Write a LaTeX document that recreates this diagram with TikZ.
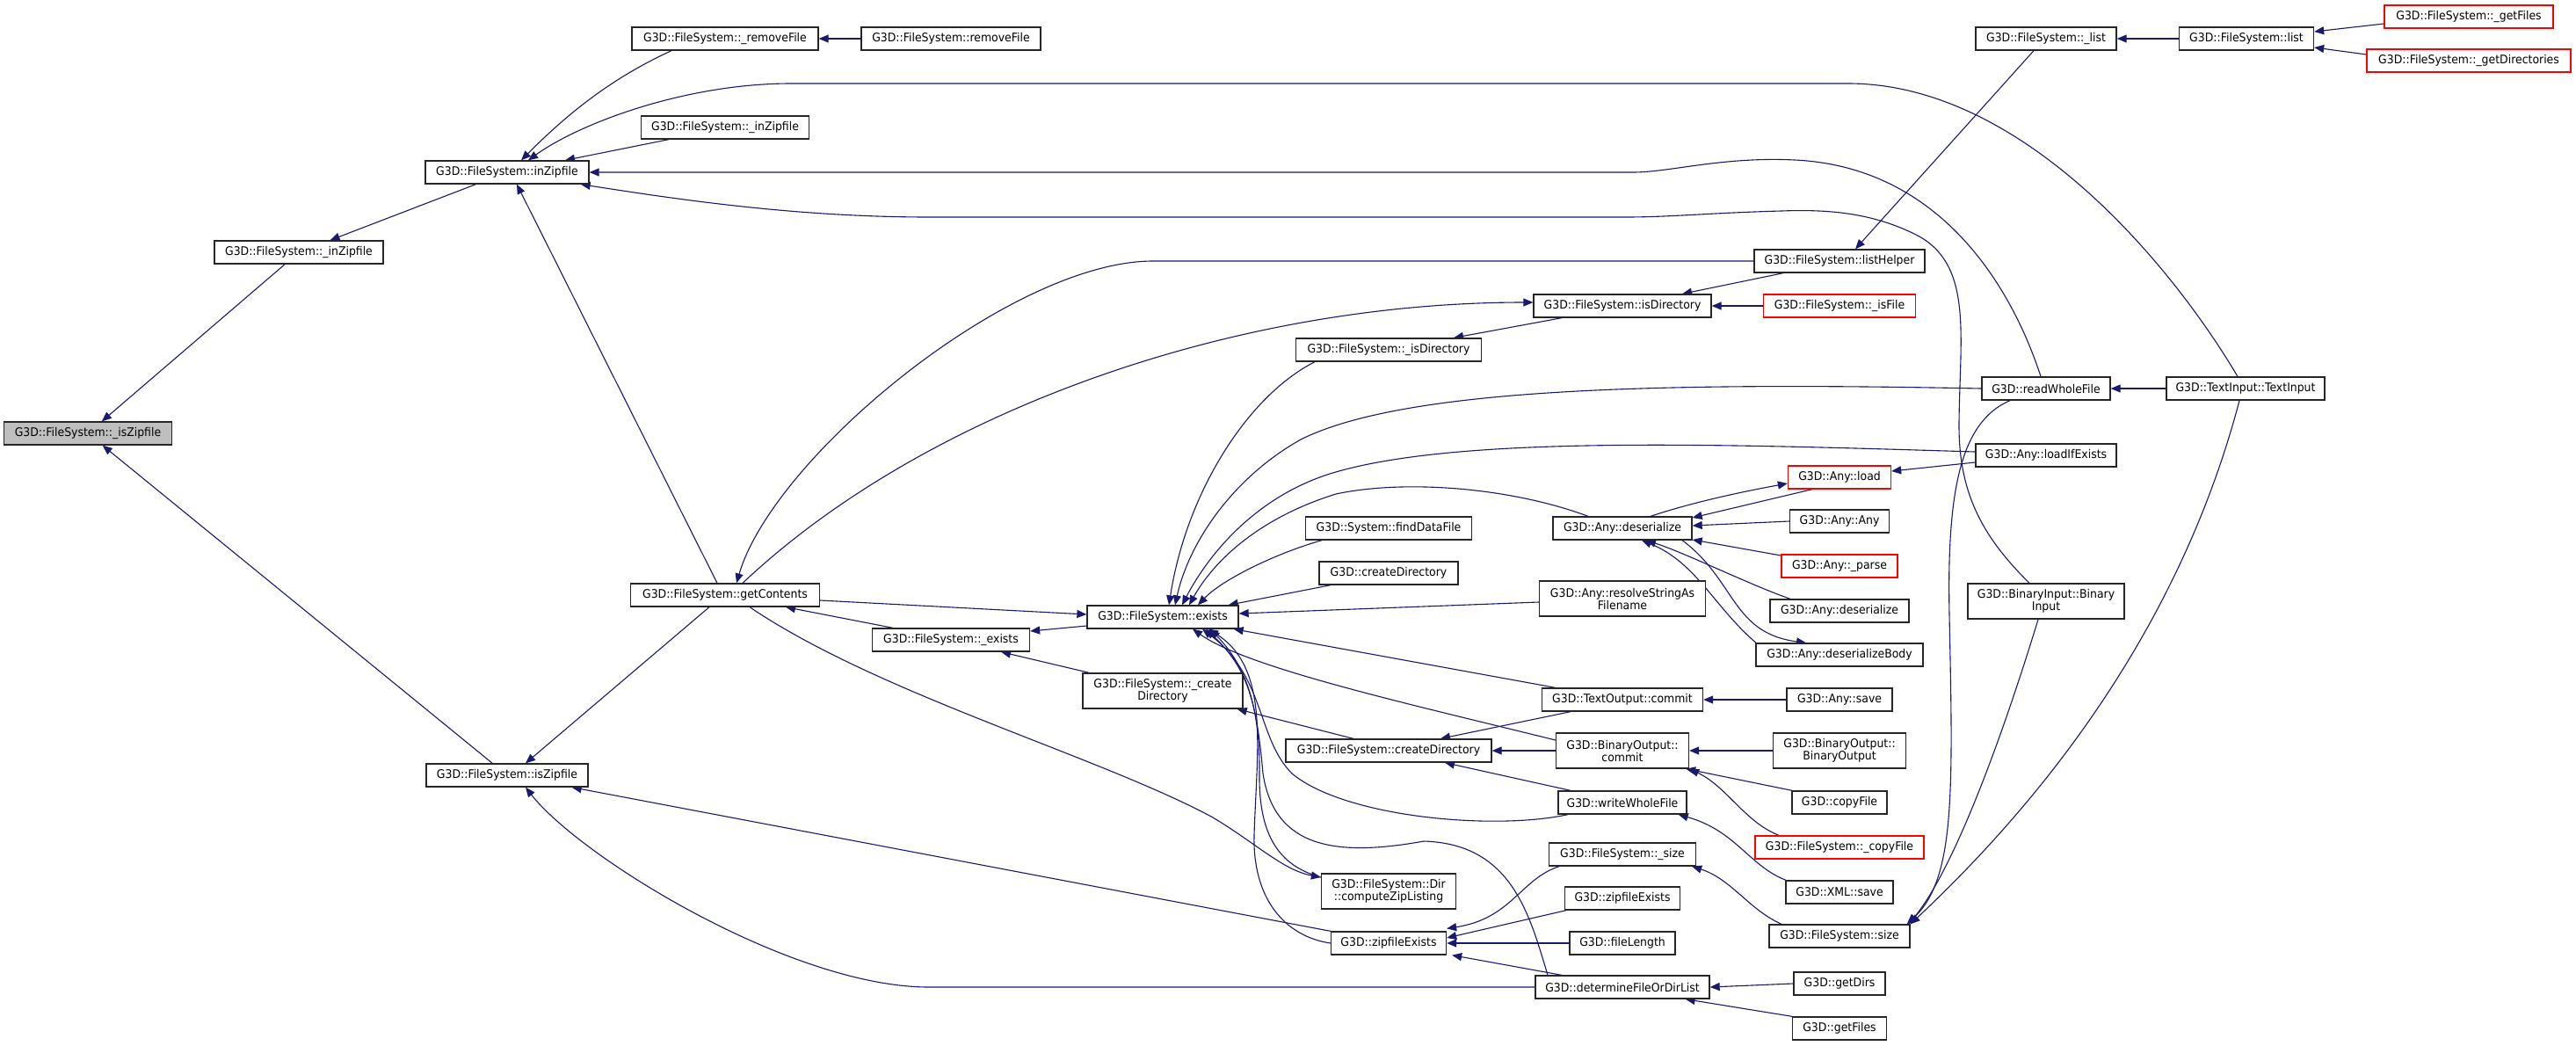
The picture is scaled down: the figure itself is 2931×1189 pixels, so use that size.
\documentclass[tikz,border=0pt]{standalone}
\usepackage{fontspec}
\newfontfamily\dxfam{DejaVu Sans}[FakeStretch=0.93]
\newcommand\dxfont{\dxfam\fontsize{6.7pt}{7pt}\selectfont}
\usetikzlibrary{arrows.meta,calc}
\pgfdeclarelayer{bg}
\pgfsetlayers{bg,main}
\definecolor{mblue}{HTML}{191970}
\tikzset{
  nd/.style={draw=black!85, line width=0.65pt, fill=white, font=\dxfont, inner sep=0pt, minimum height=13pt, align=center},
  wd/.style={minimum width=#1*0.5pt},
  tall/.style={minimum height=20pt},
  redn/.style={draw=red},
  grayn/.style={fill=black!25},
  e/.style={draw=mblue, line width=0.55pt, -{Triangle[length=5.5pt,width=4.5pt]}}
}
\begin{document}
\begin{tikzpicture}[x=0.5pt,y=-0.5pt]
\useasboundingbox (0,0) rectangle (2931,1189);
\begin{pgfonlayer}{bg}
\fill[white] (0,0) rectangle (2931,1189);
\end{pgfonlayer}
% nodes
\node[nd,grayn,wd=191] (isZ) at (100,493) {G3D::FileSystem::\_isZipfile};
\node[nd,wd=192] (inZl) at (340,287) {G3D::FileSystem::\_inZipfile};
\node[nd,wd=186] (inZ) at (577,196) {G3D::FileSystem::inZipfile};
\node[nd,wd=184] (isZp) at (577,882) {G3D::FileSystem::isZipfile};
\node[nd,wd=212] (rmFa) at (825,44) {G3D::FileSystem::\_removeFile};
\node[nd,wd=191] (inZt) at (825,145) {G3D::FileSystem::\_inZipfile};
\node[nd,wd=215] (getC) at (825,677) {G3D::FileSystem::getContents};
\node[nd,wd=204] (rmF) at (1082,44) {G3D::FileSystem::removeFile};
\node[nd,wd=179] (exA) at (1082,728) {G3D::FileSystem::\_exists};
\node[nd,wd=172] (ex) at (1323,702) {G3D::FileSystem::exists};
\node[nd,tall,wd=182] (crDa) at (1323,786) {G3D::FileSystem::\_create\\Directory};
\node[nd,wd=211] (isDa) at (1580,398) {G3D::FileSystem::\_isDirectory};
\node[nd,wd=189] (fdf) at (1580,601) {G3D::System::findDataFile};
\node[nd,wd=158] (crDg) at (1580,652) {G3D::createDirectory};
\node[nd,wd=234] (crD) at (1580,854) {G3D::FileSystem::createDirectory};
\node[nd,tall,wd=153] (czl) at (1580,1014) {G3D::FileSystem::Dir\\::computeZipListing};
\node[nd,wd=131] (zfeL) at (1580,1073) {G3D::zipfileExists};
\node[nd,wd=202] (isD) at (1846,348) {G3D::FileSystem::isDirectory};
\node[nd,wd=158] (des) at (1846,601) {G3D::Any::deserialize};
\node[nd,tall,wd=189] (rsf) at (1846,681) {G3D::Any::resolveStringAs\\Filename};
\node[nd,wd=183] (toc) at (1846,796) {G3D::TextOutput::commit};
\node[nd,tall,wd=151] (boc) at (1846,854) {G3D::BinaryOutput::\\commit};
\node[nd,wd=146] (wwf) at (1846,913) {G3D::writeWholeFile};
\node[nd,wd=167] (sizA) at (1846,972) {G3D::FileSystem::\_size};
\node[nd,wd=131] (zfeR) at (1846,1022) {G3D::zipfileExists};
\node[nd,wd=120] (flen) at (1846,1073) {G3D::fileLength};
\node[nd,wd=198] (dfl) at (1846,1123) {G3D::determineFileOrDirList};
\node[nd,wd=194] (lsh) at (2093,297) {G3D::FileSystem::listHelper};
\node[nd,redn,wd=173] (isF) at (2093,348) {G3D::FileSystem::\_isFile};
\node[nd,redn,wd=117] (load) at (2093,543) {G3D::Any::load};
\node[nd,wd=113] (any) at (2093,593) {G3D::Any::Any};
\node[nd,redn,wd=132] (parse) at (2093,644) {G3D::Any::\_parse};
\node[nd,wd=158] (desb) at (2093,695) {G3D::Any::deserialize};
\node[nd,wd=190] (desB) at (2093,745) {G3D::Any::deserializeBody};
\node[nd,wd=120] (save) at (2093,796) {G3D::Any::save};
\node[nd,tall,wd=151] (bob) at (2093,854) {G3D::BinaryOutput::\\BinaryOutput};
\node[nd,wd=108] (cpf) at (2093,913) {G3D::copyFile};
\node[nd,redn,wd=192] (cpfA) at (2093,964) {G3D::FileSystem::\_copyFile};
\node[nd,wd=122] (xml) at (2093,1015) {G3D::XML::save};
\node[nd,wd=160] (siz) at (2093,1065) {G3D::FileSystem::size};
\node[nd,wd=104] (gdirs) at (2093,1119) {G3D::getDirs};
\node[nd,wd=107] (gfiles) at (2093,1170) {G3D::getFiles};
\node[nd,wd=160] (lstA) at (2328,44) {G3D::FileSystem::\_list};
\node[nd,wd=146] (rwf) at (2328,442) {G3D::readWholeFile};
\node[nd,wd=160] (lie) at (2328,518) {G3D::Any::loadIfExists};
\node[nd,tall,wd=178] (bin) at (2328,684) {G3D::BinaryInput::Binary\\Input};
\node[nd,wd=153] (lst) at (2556,44) {G3D::FileSystem::list};
\node[nd,wd=180] (tin) at (2555,442) {G3D::TextInput::TextInput};
\node[nd,redn,wd=192] (gFa) at (2809,19) {G3D::FileSystem::\_getFiles};
\node[nd,redn,wd=232] (gDa) at (2809,69) {G3D::FileSystem::\_getDirectories};
% edges
\begin{pgfonlayer}{bg}
\draw[e] (inZl) -- (isZ);
\draw[e] (isZp) -- (isZ);
\draw[e] (inZ) -- (inZl);
\draw[e] (rmF) -- (rmFa);
\draw[e] ([shift={(-61,0)}]rmFa.south) .. controls (700,87) and (650,125) .. ([shift={(16,0)}]inZ.north);
\draw[e] ([shift={(-9,0)}]tin.north) .. controls (2470,300) and (2300,95) .. (2103,95) -- (900,95) .. controls (780,95) and (660,140) .. ([shift={(24,0)}]inZ.north);
\draw[e] ([shift={(-64,0)}]inZt.south) -- ([shift={(66,0)}]inZ.north);
\draw[e] ([shift={(-6,0)}]rwf.north) .. controls (2290,330) and (2210,190) .. (2042,182) .. controls (1960,178) and (1900,196) .. (1858,196) -- (inZ.east);
\draw[e] ([shift={(-19,0)}]bin.north) .. controls (2255,610) and (2228,560) .. (2229,480) .. controls (2230,380) and (2245,300) .. (2180,267) .. controls (2130,242) and (2080,238) .. (2027,240) .. controls (1950,242) and (1900,247) .. (1850,247) -- (1057,247) .. controls (900,247) and (760,225) .. ([shift={(-10,0)}]inZ.south east);
\draw[e] ([shift={(-9,0)}]getC.north) -- ([shift={(11,0)}]inZ.south);
\draw[e] ([shift={(-18,0)}]getC.south) -- ([shift={(21,0)}]isZp.north);
\draw[e] (lsh.west) -- (1312,297) .. controls (1150,297) and (880,520) .. ([shift={(13,0)}]getC.north);
\draw[e] ([shift={(20,0)}]getC.north) .. controls (1050,470) and (1400,344) .. ([shift={(0,-4)}]isD.west);
\draw[e] ([shift={(0,6)}]getC.east) -- ([shift={(0,-3)}]ex.west);
\draw[e] ([shift={(-66,0)}]exA.north) -- ([shift={(69,0)}]getC.south);
\draw[e] ([shift={(0,10)}]ex.west) -- ([shift={(0,-10)}]exA.east);
\draw[e] ([shift={(8,0)}]crDa.north west) -- ([shift={(57,0)}]exA.south);
\draw[e] ([shift={(-40,0)}]crD.north) -- ([shift={(-7,0)}]crDa.south east);
\draw[e] ([shift={(28,0)}]getC.south) .. controls (1000,790) and (1250,860) .. (1380,930) .. controls (1430,960) and (1460,990) .. ([shift={(0,-16)}]czl.west);
\draw[e] ([shift={(-66,0)}]zfeL.north) -- ([shift={(-19,0)}]isZp.south east);
\draw[e] (dfl.west) -- (1057,1123) .. controls (900,1123) and (660,975) .. ([shift={(21,0)}]isZp.south);
% exists fan
\draw[e] ([shift={(-84,0)}]isDa.south) .. controls (1420,450) and (1350,560) .. ([shift={(7,0)}]ex.north);
\draw[e] (rwf.west) .. controls (1900,435) and (1600,440) .. (1480,500) .. controls (1400,545) and (1352,620) .. ([shift={(14,0)}]ex.north);
\draw[e] ([shift={(0,-4)}]lie.west) .. controls (1950,505) and (1650,495) .. (1510,540) .. controls (1420,570) and (1370,640) .. ([shift={(22,0)}]ex.north);
\draw[e] ([shift={(-39,0)}]des.north) .. controls (1720,555) and (1600,545) .. (1520,562) .. controls (1430,590) and (1380,640) .. ([shift={(30,0)}]ex.north);
\draw[e] ([shift={(-76,0)}]fdf.south) .. controls (1450,630) and (1390,660) .. ([shift={(40,0)}]ex.north);
\draw[e] ([shift={(-66,0)}]crDg.south) -- ([shift={(-12,0)}]ex.north east);
\draw[e] ([shift={(0,4)}]rsf.west) -- ([shift={(0,-4)}]ex.east);
\draw[e] ([shift={(16,0)}]toc.north west) -- ([shift={(-6,0)}]ex.south east);
\draw[e] ([shift={(0,-12)}]boc.west) .. controls (1600,800) and (1420,760) .. ([shift={(34,0)}]ex.south);
\draw[e] ([shift={(-62,0)}]wwf.south) .. controls (1700,945) and (1530,930) .. (1470,880) .. controls (1430,840) and (1440,770) .. ([shift={(45,0)}]ex.south);
\draw[e] ([shift={(-85,0)}]dfl.north) .. controls (1740,1040) and (1720,960) .. (1620,957) .. controls (1520,975) and (1450,965) .. (1437,880) .. controls (1430,800) and (1420,760) .. ([shift={(49,0)}]ex.south);
\draw[e] ([shift={(0,-16)}]czl.west) .. controls (1455,985) and (1432,950) .. (1433,880) .. controls (1434,790) and (1410,750) .. ([shift={(54,0)}]ex.south);
\draw[e] (zfeL.west) .. controls (1460,1065) and (1425,1020) .. (1427,950) .. controls (1430,850) and (1445,760) .. ([shift={(52,0)}]ex.south);
% right part
\draw[e] ([shift={(-64,0)}]lsh.south) -- ([shift={(68,0)}]isD.north);
\draw[e] (isF) -- (isD);
\draw[e] ([shift={(-69,0)}]isD.south) -- ([shift={(74,0)}]isDa.north);
\draw[e] ([shift={(-14,0)}]lstA.south) -- ([shift={(18,0)}]lsh.north);
\draw[e] (lst) -- (lstA);
\draw[e] ([shift={(0,8)}]gFa.west) -- ([shift={(0,-8)}]lst.east);
\draw[e] ([shift={(0,-7)}]gDa.west) -- ([shift={(0,10)}]lst.east);
\draw[e] (tin) -- (rwf);
\draw[e] ([shift={(0,8)}]lie.west) -- ([shift={(0,-7)}]load.east);
\draw[e] ([shift={(32,0)}]des.north) .. controls (1930,570) and (1990,558) .. ([shift={(0,7)}]load.west);
\draw[e] ([shift={(-31,0)}]load.south) -- ([shift={(0,-12)}]des.east);
\draw[e] (any.west) -- ([shift={(0,-3)}]des.east);
\draw[e] ([shift={(0,-12)}]parse.west) -- ([shift={(0,13)}]des.east);
\draw[e] ([shift={(-56,0)}]desb.north) .. controls (1990,665) and (1920,630) .. ([shift={(27,0)}]des.south);
\draw[e] ([shift={(-95,0)}]desB.north) .. controls (1950,690) and (1930,640) .. ([shift={(22,0)}]des.south);
\draw[e] ([shift={(68,0)}]des.south) .. controls (1975,660) and (1970,720) .. ([shift={(-38,0)}]desB.north);
\draw[e] (save) -- (toc);
\draw[e] ([shift={(-59,0)}]toc.south) -- ([shift={(59,0)}]crD.north);
\draw[e] (boc) -- (crD);
\draw[e] ([shift={(-59,0)}]wwf.north) -- ([shift={(64,0)}]crD.south);
\draw[e] (bob) -- (boc);
\draw[e] ([shift={(-54,0)}]cpf.north) -- ([shift={(-4,0)}]boc.south east);
\draw[e] ([shift={(-69,0)}]cpfA.north) .. controls (1985,935) and (1965,895) .. (boc.south east);
\draw[e] ([shift={(-61,0)}]xml.north) .. controls (1990,985) and (1975,945) .. ([shift={(-10,0)}]wwf.south east);
\draw[e] ([shift={(-66,0)}]siz.north) .. controls (1990,1035) and (1970,1000) .. ([shift={(-5,0)}]sizA.south east);
\draw[e] ([shift={(-72,0)}]sizA.south) .. controls (1730,1000) and (1720,1045) .. ([shift={(0,-3)}]zfeL.north east);
\draw[e] ([shift={(-64,0)}]zfeR.south) -- ([shift={(0,-6)}]zfeL.east);
\draw[e] (flen) -- (zfeL);
\draw[e] ([shift={(-69,0)}]dfl.north) -- ([shift={(6,0)}]zfeL.south east);
\draw[e] (gdirs.west) -- (dfl.east);
\draw[e] ([shift={(-54,0)}]gfiles.north) -- ([shift={(-28,0)}]dfl.south east);
\draw[e] ([shift={(-41,0)}]rwf.south) .. controls (2230,480) and (2215,560) .. (2218,700) .. controls (2222,900) and (2225,1000) .. ([shift={(-4,0)}]siz.north east);
\draw[e] ([shift={(-9,0)}]bin.south) .. controls (2290,800) and (2230,980) .. ([shift={(-2,0)}]siz.north east);
\draw[e] ([shift={(-7,0)}]tin.south) .. controls (2510,600) and (2420,820) .. (siz.north east);
\end{pgfonlayer}
\end{tikzpicture}
\end{document}
